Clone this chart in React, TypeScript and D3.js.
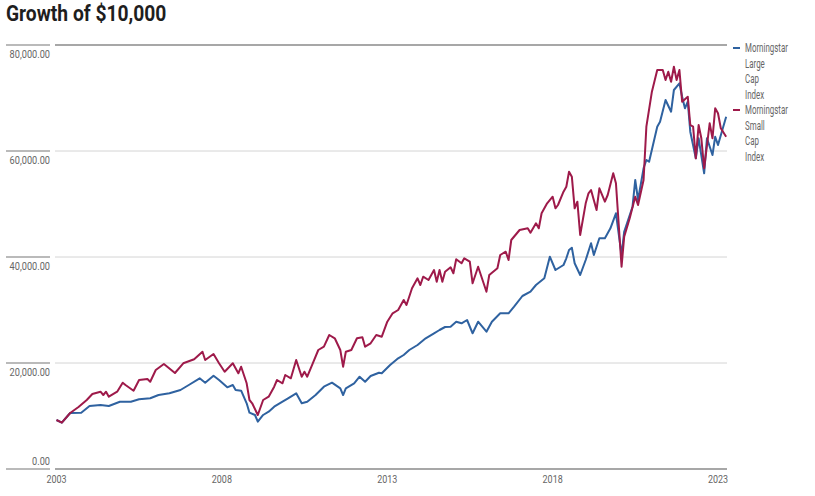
import React from "react";
import * as d3 from "d3";

const title = "Growth of $10,000";
const yTicks = [0, 20000, 40000, 60000, 80000];
const xTickYears = [2003, 2008, 2013, 2018, 2023];
const seriesNames = ["Morningstar Large Cap Index", "Morningstar Small Cap Index"];
const seriesColors = ["#2f62a0", "#9e1a4a"];

const largeDates = [
  "2003-01","2003-03","2003-06","2003-10","2004-01","2004-05","2004-08","2004-12","2005-04","2005-07",
  "2005-11","2006-02","2006-06","2006-10","2007-01","2007-05","2007-07","2007-10","2007-12","2008-03",
  "2008-05","2008-06","2008-08","2008-10","2008-11","2009-01","2009-02","2009-04","2009-06","2009-08",
  "2009-11","2010-01","2010-04","2010-06","2010-08","2010-11","2011-02","2011-05","2011-08","2011-09",
  "2011-10","2012-01","2012-03","2012-05","2012-07","2012-10","2012-11","2013-02","2013-05","2013-07",
  "2013-09","2013-12","2014-03","2014-06","2014-08","2014-10","2014-12","2015-02","2015-04","2015-06",
  "2015-08","2015-10","2016-01","2016-03","2016-06","2016-09","2016-11","2017-02","2017-05","2017-07",
  "2017-10","2017-12","2018-02","2018-05","2018-06","2018-07","2018-08","2018-09","2018-11","2019-01",
  "2019-03","2019-04","2019-06","2019-08","2019-10","2019-12","2020-02","2020-03","2020-06","2020-07",
  "2020-08","2020-10","2020-11","2020-12","2021-03","2021-04","2021-06","2021-08","2021-09","2021-11",
  "2021-12","2022-01","2022-02","2022-03","2022-05","2022-06","2022-08","2022-09","2022-11","2022-12",
  "2023-01","2023-04",
];
const largeValues = [
  9245,8736,10566,10623,11887,12075,11887,12698,12698,13151,
  13340,13962,14283,14906,15849,17113,16283,17604,16792,15415,
  15849,14906,14774,12396,10623,10189,8925,10189,10811,11755,
  12698,13340,14283,12396,12698,13962,15528,16283,15226,13962,
  15226,16170,17415,16472,17547,18170,18057,19623,20887,21509,
  22453,23396,24660,25604,26226,26792,26849,27792,27491,28113,
  25604,27792,25906,27792,29377,29377,30623,32642,33453,34717,
  35981,40057,37547,38491,39755,41321,41755,38811,36604,39434,
  42585,40377,43528,43528,45415,48245,40377,44774,49491,54528,
  50755,56736,58302,57981,64585,65528,69623,67415,71509,72774,
  70245,68057,69302,63642,58623,62396,55792,62396,59245,62698,
  61132,66472,
];

const smallDates = [
  "2003-01","2003-03","2003-06","2003-09","2003-12","2004-02","2004-05","2004-06","2004-07","2004-08",
  "2004-11","2005-01","2005-02","2005-05","2005-07","2005-10","2005-11","2006-01","2006-04","2006-08",
  "2006-11","2007-03","2007-06","2007-07","2007-10","2007-12","2008-02","2008-05","2008-07","2008-08",
  "2008-10","2008-11","2008-12","2009-02","2009-04","2009-06","2009-08","2009-09","2009-11","2009-12",
  "2010-02","2010-04","2010-06","2010-07","2010-08","2010-10","2010-12","2011-02","2011-04","2011-06",
  "2011-08","2011-09","2011-10","2011-12","2012-02","2012-04","2012-05","2012-07","2012-09","2012-11",
  "2013-01","2013-03","2013-05","2013-07","2013-08","2013-10","2013-12","2014-01","2014-02","2014-04",
  "2014-06","2014-07","2014-08","2014-09","2014-10","2014-12","2015-01","2015-02","2015-04","2015-05",
  "2015-07","2015-08","2015-10","2016-01","2016-02","2016-05","2016-06","2016-08","2016-09","2016-10",
  "2017-01","2017-04","2017-05","2017-07","2017-08","2017-09","2017-11","2018-01","2018-02","2018-03",
  "2018-05","2018-06","2018-07","2018-08","2018-09","2018-10","2018-11","2019-01","2019-02","2019-03",
  "2019-05","2019-06","2019-08","2019-09","2019-11","2019-12","2020-02","2020-03","2020-05","2020-07",
  "2020-08","2020-10","2020-11","2021-01","2021-03","2021-05","2021-06","2021-07","2021-08","2021-09",
  "2021-10","2021-11","2021-12","2022-02","2022-03","2022-04","2022-05","2022-06","2022-07","2022-08",
  "2022-10","2022-11","2022-12","2023-01","2023-02","2023-04",
];
const smallValues = [
  9245,8736,10566,11698,13019,14151,14585,13962,14585,13642,
  14585,16283,15849,14774,16792,16981,16472,18679,19811,18113,
  19943,20698,22132,20566,21698,19943,18358,19943,18057,19302,
  16170,13019,12396,10189,13019,13642,15528,16792,16170,17736,
  17113,20566,17415,18358,17415,19943,22453,23075,25283,24660,
  22453,19302,22132,22453,24660,24849,23075,23717,25283,24962,
  27792,29377,30000,31887,30943,34094,35981,34717,36283,35660,
  37547,35340,37547,35340,37226,38057,36925,39566,38811,39755,
  39113,35038,38170,33453,36604,37868,40377,41000,39434,43208,
  45094,45415,44585,46358,45415,48245,50132,51377,49189,49811,
  52321,53264,56094,55151,49189,50434,44151,50132,52019,52642,
  48868,52962,50434,51698,55792,53906,38170,43830,47302,51377,
  49811,54528,64585,71189,75283,75283,73396,74962,73075,75906,
  73396,75283,69302,70245,64906,64585,58623,64906,62396,56736,
  65226,62396,68057,67113,64283,62698,
];

const FONT = "Roboto, 'Liberation Sans', sans-serif";

type CTProps = {
  x: number; y: number; s: number; size: number; anchor?: string;
  fill?: string; weight?: string; children: React.ReactNode;
};
function CText({ x, y, s, size, anchor = "start", fill = "#666", weight = "normal", children }: CTProps) {
  return (
    <text
      transform={`translate(${x},${y}) scale(${s},1)`}
      textAnchor={anchor}
      fontSize={size}
      fontWeight={weight}
      fill={fill}
    >
      {children}
    </text>
  );
}

export default function App() {
  const W = 815, H = 496;
  const parse = d3.timeParse("%Y-%m");
  const x = d3.scaleTime()
    .domain([new Date(2003, 0, 1), new Date(2023, 0, 1)])
    .range([56.5, 718]);
  const y = d3.scaleLinear().domain([0, 80000]).range([469, 45]);
  const fmt = d3.format(",.2f");

  const series = [
    { name: seriesNames[0], color: seriesColors[0], pts: largeDates.map((d, i) => ({ d: parse(d) as Date, v: largeValues[i] })) },
    { name: seriesNames[1], color: seriesColors[1], pts: smallDates.map((d, i) => ({ d: parse(d) as Date, v: smallValues[i] })) },
  ];
  const line = d3.line<{ d: Date; v: number }>()
    .x((p) => x(p.d))
    .y((p) => y(p.v))
    .curve(d3.curveLinear);

  const legendWords = [
    ["Morningstar", "Large", "Cap", "Index"],
    ["Morningstar", "Small", "Cap", "Index"],
  ];

  return (
    <svg width={W} height={H} style={{ position: "absolute", left: 0, top: 0, background: "#fff" }} fontFamily={FONT}>
      <CText x={6} y={21} s={0.875} size={22} weight="bold" fill="#1e1e1e">{title}</CText>
      {yTicks.map((t) => {
        const yy = y(t);
        const strong = t === 0 || t === 80000;
        return (
          <g key={t}>
            <line x1={6} x2={50} y1={yy} y2={yy} stroke="#777" strokeWidth={1.2} />
            <line x1={55} x2={727} y1={yy} y2={yy} stroke={strong ? "#8a8a8a" : "#d4d4d4"} strokeWidth={strong ? 1.4 : 1} />
            <CText x={50} y={t === 0 ? yy - 4 : yy + 13} s={0.8} size={11.5} anchor="end">{fmt(t)}</CText>
          </g>
        );
      })}
      {xTickYears.map((yr) => (
        <CText key={yr} x={x(new Date(yr, 0, 1))} y={483} s={0.78} size={11.5} anchor="middle">{yr}</CText>
      ))}
      {series.map((s) => (
        <path key={s.name} d={line(s.pts) || ""} fill="none" stroke={s.color} strokeWidth={2} strokeLinejoin="round" />
      ))}
      {legendWords.map((words, i) => (
        <g key={i}>
          <line x1={733} x2={740} y1={48 + i * 62} y2={48 + i * 62} stroke={seriesColors[i]} strokeWidth={2} />
          {words.map((w, j) => (
            <CText key={j} x={745} y={52 + i * 62 + j * 15.5} s={0.66} size={12}>{w}</CText>
          ))}
        </g>
      ))}
    </svg>
  );
}
